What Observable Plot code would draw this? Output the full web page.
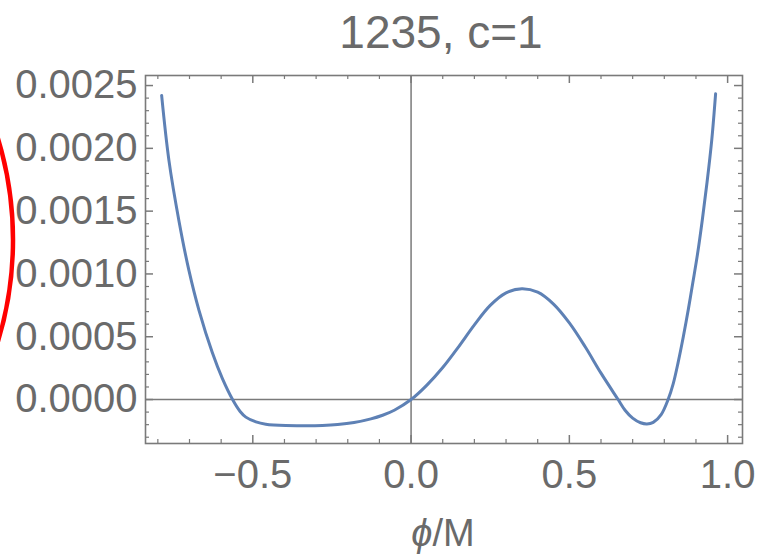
<!DOCTYPE html>
<html>
<head>
<meta charset="utf-8">
<script src="https://cdn.jsdelivr.net/npm/d3@7"></script>
<script src="https://cdn.jsdelivr.net/npm/@observablehq/plot@0.6"></script>
<style>
html,body{margin:0;padding:0;background:#fff;overflow:hidden;width:761px;height:558px}
#wrap{position:relative;width:761px;height:558px}
#arc{position:absolute;left:0;top:0;pointer-events:none}
</style>
</head>
<body>
<div id="wrap"></div>
<script>
// ---- data ----
const titleText = "1235, c=1";
const xLabelText = "ϕ/M";
const phi = [-0.788, -0.765, -0.733, -0.702, -0.670, -0.628, -0.596, -0.564, -0.540, -0.522,
             -0.490, -0.459, -0.396, -0.338, -0.280, -0.232, -0.180, -0.127, -0.090, -0.053,
             0.000, 0.050, 0.100, 0.150, 0.200, 0.250, 0.300, 0.350, 0.400, 0.450,
             0.500, 0.550, 0.600, 0.654, 0.676, 0.700, 0.725, 0.745, 0.765, 0.790,
             0.812, 0.828, 0.844, 0.860, 0.876, 0.890, 0.905, 0.920, 0.935, 0.950, 0.962];
const V = [0.002421, 0.001904, 0.001418, 0.001030, 0.000710, 0.000374, 0.000166, 0.000000, -0.000095, -0.000140,
           -0.000178, -0.000196, -0.000207, -0.000208, -0.000206, -0.000199, -0.000183, -0.000154, -0.000125, -0.000085,
           0.000000, 0.000115, 0.000255, 0.000420, 0.000595, 0.000750, 0.000850, 0.000882, 0.000855, 0.000760,
           0.000610, 0.000420, 0.000210, 0.000000, -0.000085, -0.000148, -0.000185, -0.000195, -0.000182, -0.000120,
           0.000000, 0.000125, 0.000300, 0.000500, 0.000720, 0.000930, 0.001160, 0.001430, 0.001730, 0.002070, 0.002434];
const xMajor = [-0.5, 0.0, 0.5, 1.0];
const xMinor = [-0.8, -0.7, -0.6, -0.4, -0.3, -0.2, -0.1, 0.1, 0.2, 0.3, 0.4, 0.6, 0.7, 0.8, 0.9];
const yMajor = [0.0000, 0.0005, 0.0010, 0.0015, 0.0020, 0.0025];
const yMinor = [-0.0003, -0.0002, -0.0001, 0.0001, 0.0002, 0.0003, 0.0004, 0.0006, 0.0007, 0.0008, 0.0009,
                0.0011, 0.0012, 0.0013, 0.0014, 0.0016, 0.0017, 0.0018, 0.0019, 0.0021, 0.0022, 0.0023, 0.0024];

// ---- layout ----
const W = 761, H = 558;
const mL = 145, mR = 19, mT = 75, mB = 115;
const innerW = W - mL - mR, innerH = H - mT - mB;
const gray = "#6a6a6a";
const frameGray = "#7a7a7a";
const font = "'Liberation Sans', Arial, Helvetica, sans-serif";

const chart = Plot.plot({
  width: W, height: H,
  marginLeft: mL, marginRight: mR, marginTop: mT, marginBottom: mB,
  style: {fontFamily: font, color: gray, background: "#fff", overflow: "visible"},
  x: {domain: [-0.839, 1.047]},
  y: {domain: [-0.00035, 0.00258]},
  marks: [
    Plot.ruleX([0], {stroke: frameGray, strokeWidth: 1.5}),
    Plot.ruleY([0], {stroke: frameGray, strokeWidth: 1.5}),
    // inward ticks, bottom & top
    Plot.ruleX(xMinor, {stroke: frameGray, strokeWidth: 1.2, insetTop: innerH - 4}),
    Plot.ruleX(xMinor, {stroke: frameGray, strokeWidth: 1.2, insetBottom: innerH - 4}),
    Plot.ruleX(xMajor, {stroke: frameGray, strokeWidth: 1.5, insetTop: innerH - 8}),
    Plot.ruleX(xMajor, {stroke: frameGray, strokeWidth: 1.5, insetBottom: innerH - 8}),
    // inward ticks, left & right
    Plot.ruleY(yMinor, {stroke: frameGray, strokeWidth: 1.2, insetRight: innerW - 4}),
    Plot.ruleY(yMinor, {stroke: frameGray, strokeWidth: 1.2, insetLeft: innerW - 4}),
    Plot.ruleY(yMajor, {stroke: frameGray, strokeWidth: 1.5, insetRight: innerW - 8}),
    Plot.ruleY(yMajor, {stroke: frameGray, strokeWidth: 1.5, insetLeft: innerW - 8}),
    Plot.frame({stroke: frameGray, strokeWidth: 1.6}),
    Plot.axisX({ticks: xMajor, tickSize: 0, tickPadding: 16, tickFormat: d3.format(".1f"),
                fontSize: 40, label: null, fill: gray}),
    Plot.axisY({ticks: yMajor, tickSize: 0, tickPadding: 8, tickFormat: d3.format(".4f"),
                fontSize: 40, label: null, fill: gray}),
    Plot.line(phi, {x: phi, y: V, curve: "catmull-rom", stroke: "#5E81B5", strokeWidth: 3}),
    Plot.text([titleText], {frameAnchor: "top", lineAnchor: "bottom", dy: -28, dx: -3,
                            fontSize: 46, fill: gray}),
    Plot.text([xLabelText], {frameAnchor: "bottom", lineAnchor: "bottom", dy: 102, dx: -1,
                             fontSize: 38, fill: gray})
  ]
});

// italic phi in the axis label
chart.querySelectorAll("text").forEach(t => {
  if (t.textContent === xLabelText) {
    t.textContent = "";
    const ns = "http://www.w3.org/2000/svg";
    const a = document.createElementNS(ns, "tspan");
    a.setAttribute("font-style", "italic");
    a.textContent = "ϕ";
    const b = document.createElementNS(ns, "tspan");
    b.textContent = "/M";
    t.appendChild(a); t.appendChild(b);
  }
});

const wrap = document.getElementById("wrap");
wrap.appendChild(chart);

// red circled annotation at the left edge
const ns = "http://www.w3.org/2000/svg";
const arc = document.createElementNS(ns, "svg");
arc.setAttribute("id", "arc");
arc.setAttribute("width", 40);
arc.setAttribute("height", H);
const c = document.createElementNS(ns, "circle");
c.setAttribute("cx", -337); c.setAttribute("cy", 240); c.setAttribute("r", 350);
c.setAttribute("fill", "none"); c.setAttribute("stroke", "#ff0000"); c.setAttribute("stroke-width", 4.5);
arc.appendChild(c);
wrap.appendChild(arc);
</script>
</body>
</html>
